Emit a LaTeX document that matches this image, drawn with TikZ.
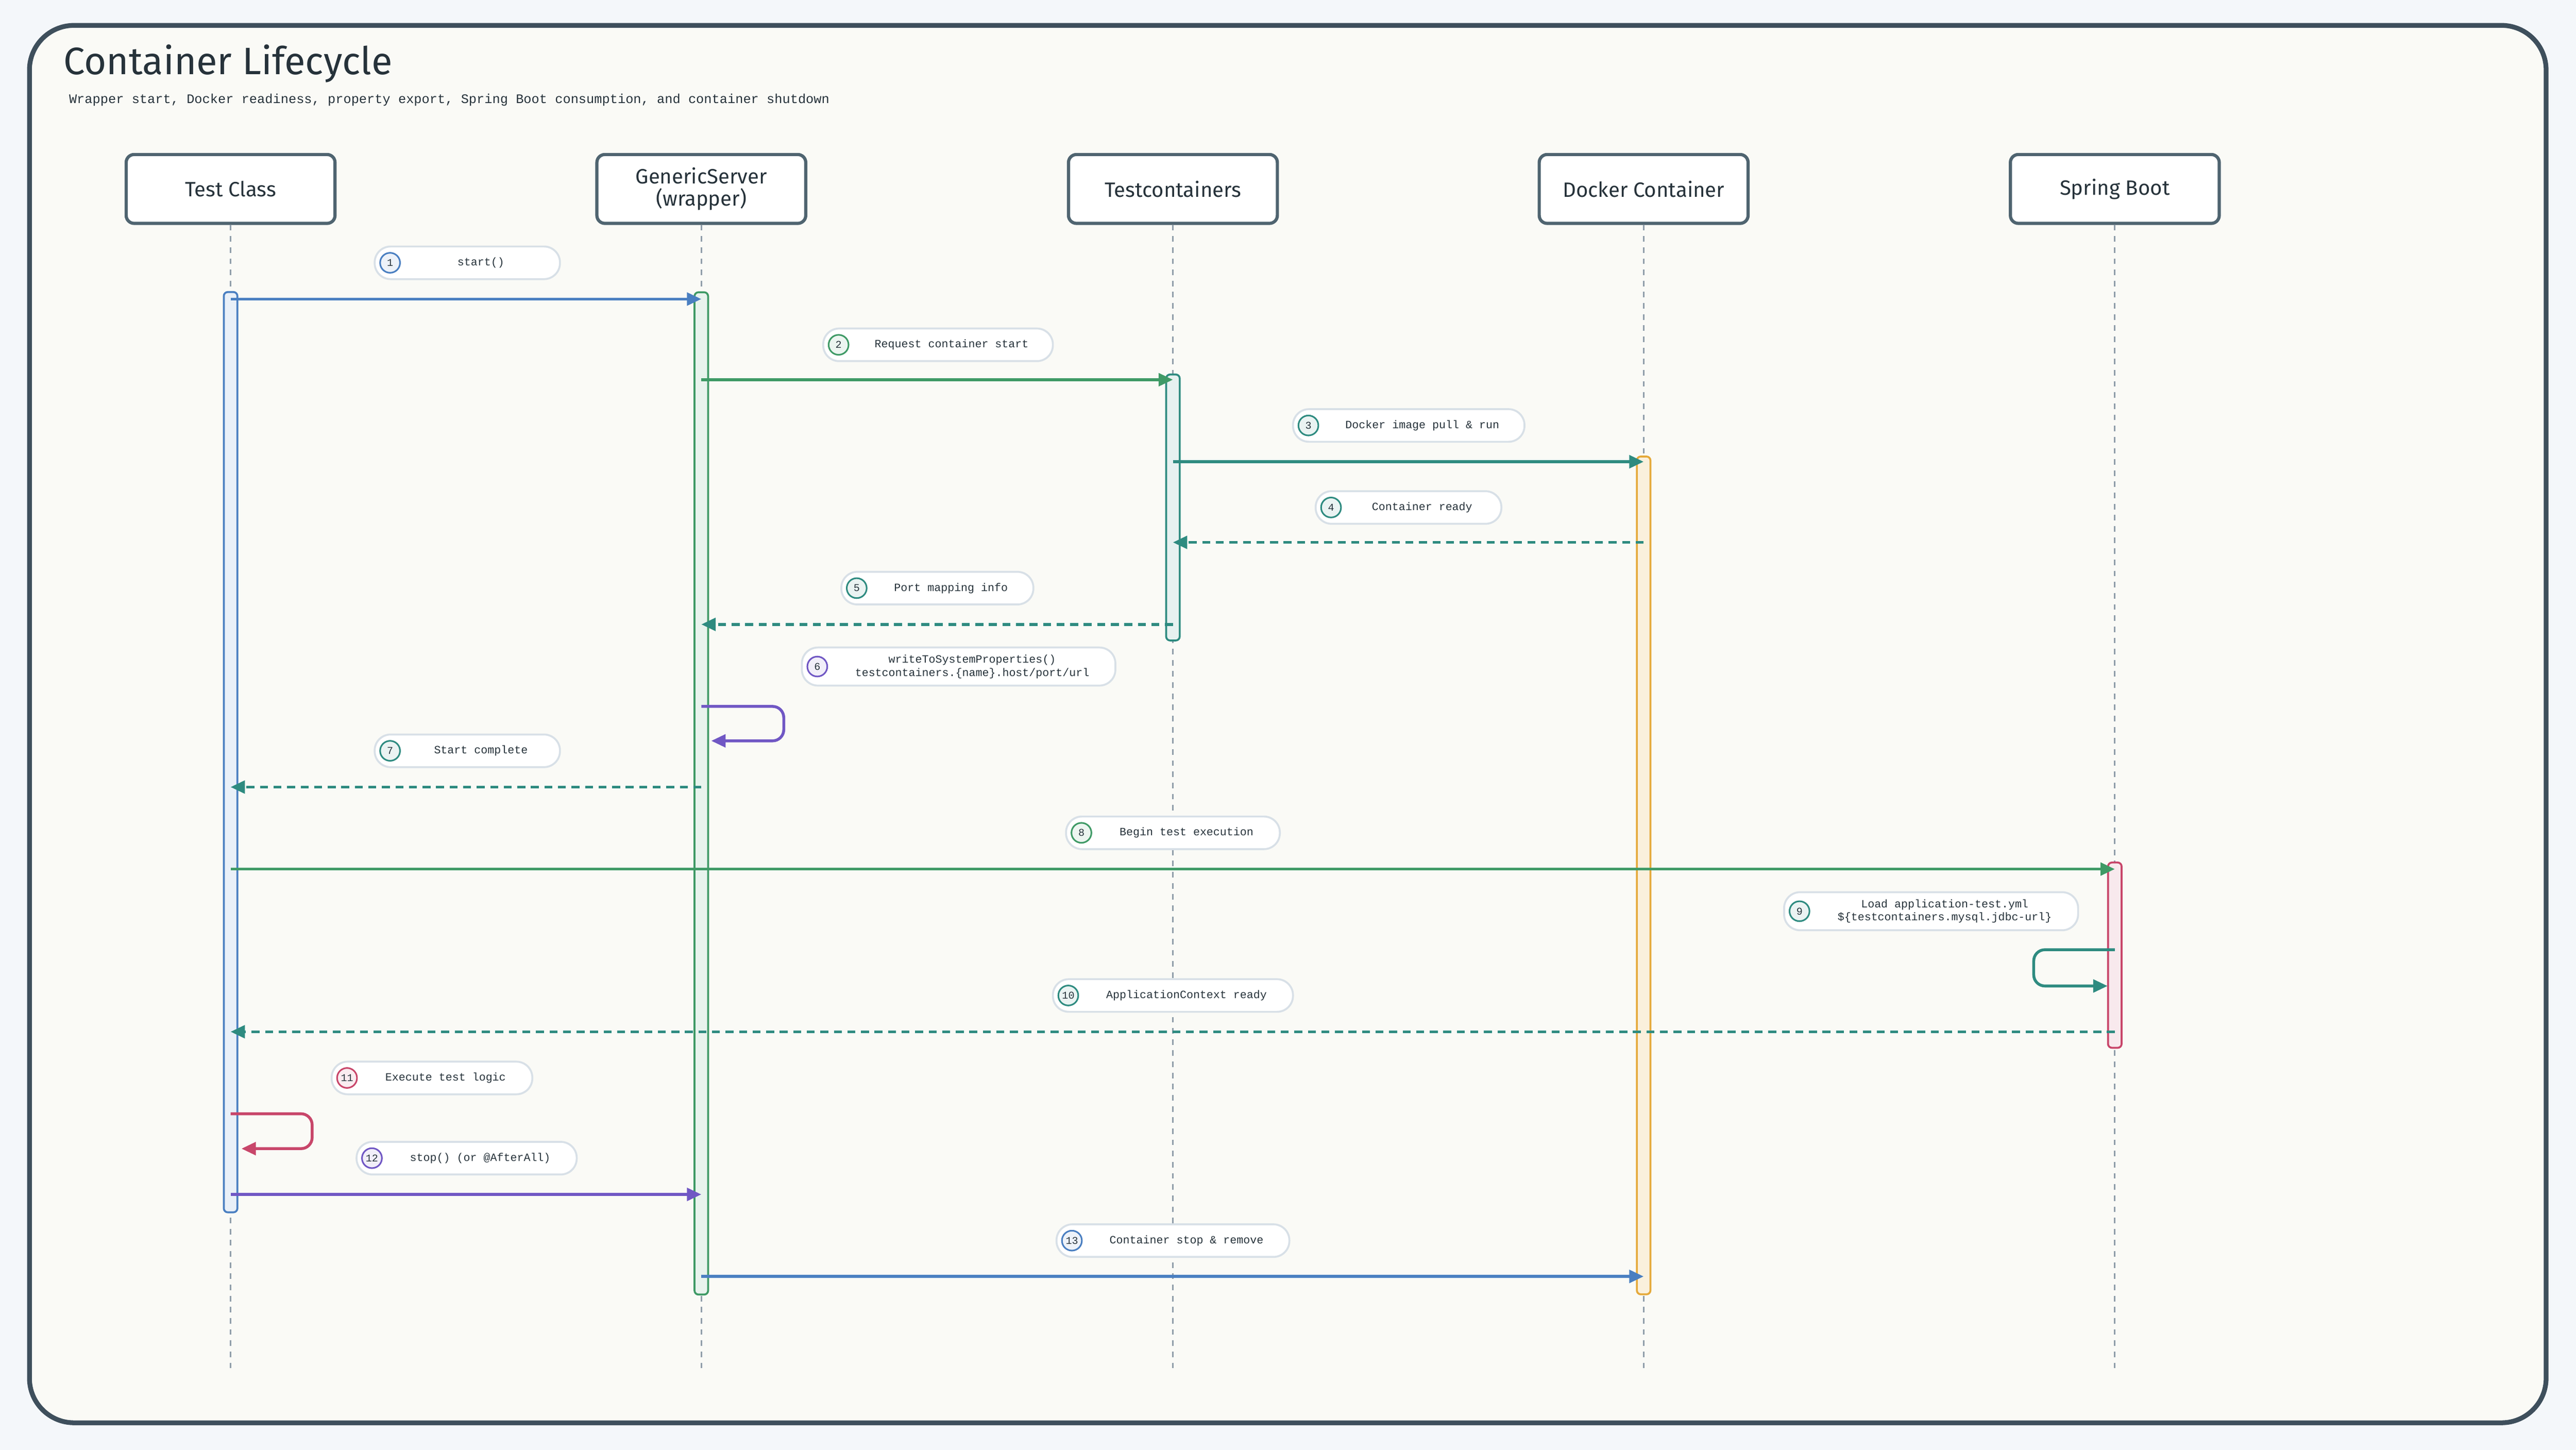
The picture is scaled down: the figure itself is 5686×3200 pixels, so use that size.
\documentclass[tikz,border=0pt]{standalone}
\usepackage{fontspec}
\setmainfont{Fira Sans}
\newfontfamily\monof{Liberation Mono}
\usetikzlibrary{arrows.meta}
\definecolor{pageb}{HTML}{F4F7FA}
\definecolor{panel}{HTML}{FAFAF6}
\definecolor{frame}{HTML}{3E4F5C}
\definecolor{actb}{HTML}{4F6470}
\definecolor{txt}{HTML}{26323A}
\definecolor{life}{HTML}{8E9CA8}
\definecolor{pillb}{HTML}{D8E0E7}
\definecolor{cblue}{HTML}{4A7FC1}
\definecolor{cgreen}{HTML}{3F9A66}
\definecolor{cteal}{HTML}{2E8B80}
\definecolor{cpurple}{HTML}{7057C4}
\definecolor{ccrim}{HTML}{C8466A}
\definecolor{corange}{HTML}{E5A93A}
\tikzset{
 actor/.style={draw=actb,line width=2pt,rounded corners=5pt,fill=white,minimum width=461*0.01cm,minimum height=152*0.01cm,align=center,font=\fontsize{13}{14}\selectfont,text=txt},
 lifeline/.style={draw=life,line width=1pt,dash pattern=on 3.5pt off 3.5pt},
 act/.style={line width=1.2pt,rounded corners=2.5pt,minimum width=30*0.01cm,inner sep=0},
 msg/.style={line width=1.8pt,-{Triangle[length=9pt,width=8pt]}},
 ret/.style={msg,dash pattern=on 5pt off 3.5pt},
 self/.style={msg,rounded corners=7pt},
 pill/.style={draw=pillb,line width=1.2pt,fill=white,rounded corners=10pt,minimum height=72*0.01cm,inner sep=0},
 num/.style={circle,line width=1pt,minimum size=44*0.01cm,inner sep=0,font=\monof\fontsize{6.5}{6.5}\selectfont,text=txt},
 ltxt/.style={font=\monof\fontsize{7}{8.4}\selectfont,text=txt,align=center,inner sep=0},
}
% #1 name #2 x1 #3 x2 #4 y #5 height #6 num #7 colour #8 text
\newcommand\lblpill[8]{%
 \node[pill,minimum width=(#3-#2)*0.01cm,minimum height=#5*0.01cm] (#1) at ({(#2+#3)/2},#4) {};
 \node[num,draw=#7,fill=#7!10] (#1n) at ({#2+34},#4) {#6};
 \node[ltxt] (#1t) at ({(#2+60+#3)/2},#4) {#8};}
\begin{document}
\begin{tikzpicture}[x=0.01cm,y=-0.01cm]
\fill[pageb] (0,0) rectangle (5686,3200);
\useasboundingbox (0,0) rectangle (5686,3200);
\draw[frame,fill=panel,line width=3pt,rounded corners=28pt] (65,56) rectangle (5620,3140);
\node[anchor=west,font=\fontsize{24}{24}\selectfont,text=txt] (title) at (128,140) {Container Lifecycle};
\node[anchor=west,font=\monof\fontsize{8.2}{8.2}\selectfont,text=txt] (sub) at (140,221) {Wrapper start, Docker readiness, property export, Spring Boot consumption, and container shutdown};
% actors
\foreach \n/\x/\t in {tc/509/Test Class,gs/1548/{GenericServer\\(wrapper)},tcs/2589/Testcontainers,dc/3628/Docker Container,sb/4668/Spring Boot}{
 \node[actor] (\n) at (\x,417) {\t};
 \coordinate (\n e) at (\x,3028);
 \draw[lifeline] (\n.south) -- (\n e);
}
% activations
\node[act,draw=cblue,fill=cblue!12,minimum height=2031*0.01cm] (atc) at (509,1660) {};
\node[act,draw=cgreen,fill=cgreen!12,minimum height=2212*0.01cm] (ags) at (1548,1751) {};
\node[act,draw=cteal,fill=cteal!12,minimum height=587*0.01cm] (atcs) at (2589,1120) {};
\node[act,draw=corange,fill=corange!18,minimum height=1849*0.01cm] (adc) at (3628,1932) {};
\node[act,draw=ccrim,fill=ccrim!12,minimum height=409*0.01cm] (asb) at (4668,2108) {};
% message end points
\foreach \i/\y in {1/660,2/838,3/1019,4/1197,5/1378,6/1559,6b/1635,7/1737,8/1918,9/2096,9b/2176,10/2277,11/2458,11b/2535,12/2636,13/2817}{
 \coordinate (tc\i) at (509,\y);
 \coordinate (gs\i) at (1548,\y);
 \coordinate (tcs\i) at (2589,\y);
 \coordinate (dc\i) at (3628,\y);
 \coordinate (sb\i) at (4668,\y);
}
\coordinate (gs6r) at (1546+24,1635);
\coordinate (sb9r) at (4668-16,2176);
\coordinate (tc11r) at (509+24,2535);
% labels
\lblpill{l1}{827}{1236}{580}{72}{1}{cblue}{start()}
\lblpill{l2}{1817}{2324}{761}{72}{2}{cgreen}{Request container start}
\lblpill{l3}{2854}{3365}{939}{72}{3}{cteal}{Docker image pull \& run}
\lblpill{l4}{2904}{3314}{1120}{72}{4}{cteal}{Container ready}
\lblpill{l5}{1857}{2281}{1298}{72}{5}{cteal}{Port mapping info}
\lblpill{l6}{1770}{2462}{1471}{84}{6}{cpurple}{writeToSystemProperties()\\testcontainers.\{name\}.host/port/url}
\lblpill{l7}{827}{1236}{1657}{72}{7}{cteal}{Start complete}
\lblpill{l8}{2353}{2825}{1838}{72}{8}{cgreen}{Begin test execution}
\lblpill{l9}{3938}{4587}{2011}{84}{9}{cteal}{Load application-test.yml\\\$\{testcontainers.mysql.jdbc-url\}}
\lblpill{l10}{2324}{2854}{2197}{72}{10}{cteal}{ApplicationContext ready}
\lblpill{l11}{732}{1175}{2379}{72}{11}{ccrim}{Execute test logic}
\lblpill{l12}{787}{1273}{2556}{72}{12}{cpurple}{stop() (or @AfterAll)}
\lblpill{l13}{2332}{2846}{2738}{72}{13}{cblue}{Container stop \& remove}
% messages
\draw[msg,cblue] (tc1) -- (gs1);
\draw[msg,cgreen] (gs2) -- (tcs2);
\draw[msg,cteal] (tcs3) -- (dc3);
\draw[ret,cteal] (dc4) -- (tcs4);
\draw[ret,cteal] (tcs5) -- (gs5);
\draw[self,cpurple] (gs6) -- ++(182,0) |- (gs6r);
\draw[ret,cteal] (gs7) -- (tc7);
\draw[msg,cgreen] (tc8) -- (sb8);
\draw[self,cteal] (sb9) -- ++(-179,0) |- (sb9r);
\draw[ret,cteal] (sb10) -- (tc10);
\draw[self,ccrim] (tc11) -- ++(180,0) |- (tc11r);
\draw[msg,cpurple] (tc12) -- (gs12);
\draw[msg,cblue] (gs13) -- (dc13);
\end{tikzpicture}
\end{document}
